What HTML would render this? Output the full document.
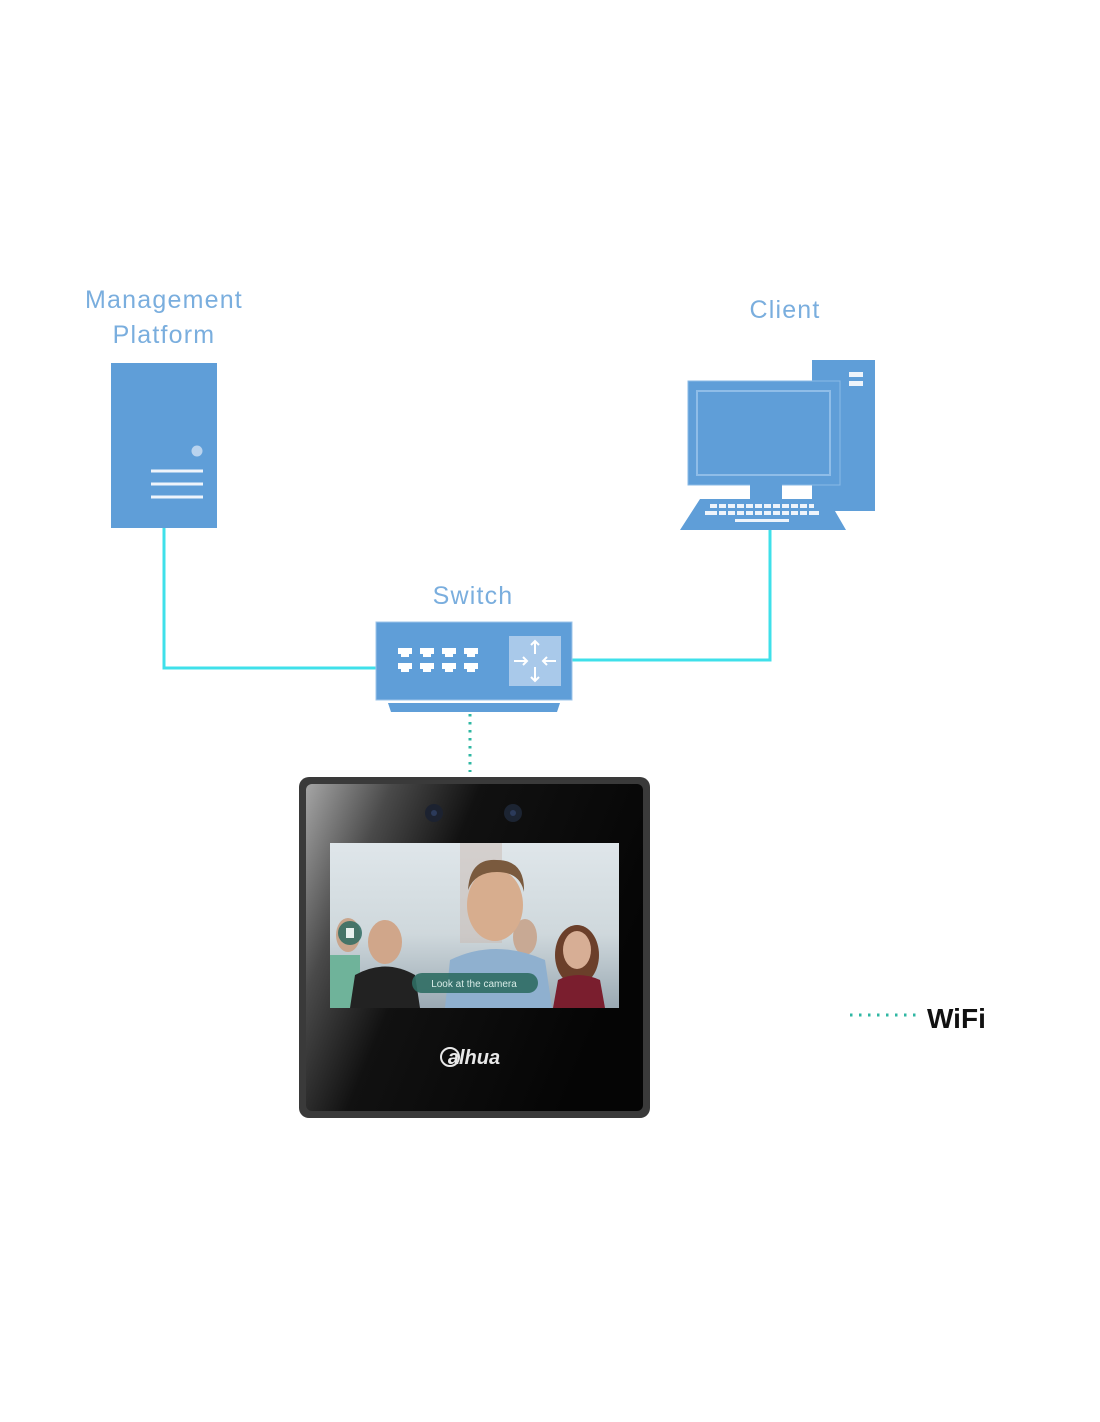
<!DOCTYPE html>
<html><head><meta charset="utf-8"><style>
html,body{margin:0;padding:0;background:#fff;}
svg{display:block;}
text{font-family:"Liberation Sans",sans-serif;}
</style></head><body>
<svg width="1100" height="1422" viewBox="0 0 1100 1422" xmlns="http://www.w3.org/2000/svg">
<defs>
<linearGradient id="glass" x1="0" y1="0" x2="1" y2="0.4">
<stop offset="0" stop-color="#a5a5a5"/><stop offset="0.22" stop-color="#4a4a4a"/><stop offset="0.45" stop-color="#111"/><stop offset="1" stop-color="#050505"/>
</linearGradient>
<linearGradient id="photo" x1="0" y1="0" x2="0" y2="1">
<stop offset="0" stop-color="#dfe6ea"/><stop offset="0.55" stop-color="#cfd8dc"/><stop offset="1" stop-color="#9aa9b3"/>
</linearGradient>
</defs>
<!-- labels -->
<g fill="#7aaede" font-size="25" letter-spacing="1.2" text-anchor="middle">
<text x="164" y="308">Management</text>
<text x="164" y="343">Platform</text>
<text x="785" y="318">Client</text>
<text x="473" y="604">Switch</text>
</g>
<!-- connectors -->
<polyline points="164,528 164,668 377,668" fill="none" stroke="#3fe0ea" stroke-width="3"/>
<polyline points="571,660 770,660 770,530" fill="none" stroke="#3fe0ea" stroke-width="3"/>
<line x1="470" y1="714" x2="470" y2="772" stroke="#2fb7a3" stroke-width="3" stroke-dasharray="2.5 5.5"/>
<!-- server -->
<rect x="111" y="363" width="106" height="165" fill="#5f9ed8"/>
<circle cx="197" cy="451" r="5.5" fill="#b9d3ee"/>
<g stroke="#eef4fb" stroke-width="3"><line x1="151" y1="471" x2="203" y2="471"/><line x1="151" y1="484" x2="203" y2="484"/><line x1="151" y1="497" x2="203" y2="497"/></g>
<!-- client -->
<rect x="812" y="360" width="63" height="151" fill="#5f9ed8"/>
<rect x="849" y="372" width="14" height="5" fill="#eef4fb"/><rect x="849" y="381" width="14" height="5" fill="#eef4fb"/>
<rect x="688" y="381" width="152" height="104" fill="#5f9ed8" stroke="#8ab9e6" stroke-width="1"/>
<rect x="697" y="391" width="133" height="84" fill="#5f9ed8" stroke="#8fbde8" stroke-width="2"/>
<rect x="750" y="484" width="32" height="16" fill="#5f9ed8"/>
<polygon points="700,499 828,499 846,530 680,530" fill="#5f9ed8"/>
<g fill="#eef4fb">
<rect x="710" y="504" width="104" height="4"/><rect x="705" y="511" width="114" height="4"/><rect x="735" y="519" width="54" height="3"/>
</g>
<g fill="#5f9ed8"><rect x="717" y="503" width="2" height="13"/><rect x="726" y="503" width="2" height="13"/><rect x="735" y="503" width="2" height="13"/><rect x="744" y="503" width="2" height="13"/><rect x="753" y="503" width="2" height="13"/><rect x="762" y="503" width="2" height="13"/><rect x="771" y="503" width="2" height="13"/><rect x="780" y="503" width="2" height="13"/><rect x="789" y="503" width="2" height="13"/><rect x="798" y="503" width="2" height="13"/><rect x="807" y="503" width="2" height="13"/></g>
<!-- switch -->
<rect x="376" y="622" width="196" height="78" fill="#5f9ed8" stroke="#9cc4ea" stroke-width="1"/>
<polygon points="388,703 560,703 557,712 391,712" fill="#5f9ed8"/>
<rect x="509" y="636" width="52" height="50" fill="#a9c9ea"/>
<g stroke="#fff" stroke-width="2" fill="none">
<line x1="535" y1="641" x2="535" y2="654"/><polyline points="531,645 535,641 539,645"/>
<line x1="535" y1="667" x2="535" y2="681"/><polyline points="531,677 535,681 539,677"/>
<line x1="514" y1="661" x2="527" y2="661"/><polyline points="523,657 527,661 523,665"/>
<line x1="543" y1="661" x2="556" y2="661"/><polyline points="547,657 543,661 547,665"/>
</g>
<g fill="#fff">
<rect x="398" y="648" width="14" height="6"/><rect x="401" y="654" width="8" height="3"/>
<rect x="420" y="648" width="14" height="6"/><rect x="423" y="654" width="8" height="3"/>
<rect x="442" y="648" width="14" height="6"/><rect x="445" y="654" width="8" height="3"/>
<rect x="464" y="648" width="14" height="6"/><rect x="467" y="654" width="8" height="3"/>
<rect x="398" y="663" width="14" height="6"/><rect x="401" y="669" width="8" height="3"/>
<rect x="420" y="663" width="14" height="6"/><rect x="423" y="669" width="8" height="3"/>
<rect x="442" y="663" width="14" height="6"/><rect x="445" y="669" width="8" height="3"/>
<rect x="464" y="663" width="14" height="6"/><rect x="467" y="669" width="8" height="3"/>
</g>
<!-- device -->
<rect x="299" y="777" width="351" height="341" rx="10" fill="#3a3a3a"/>
<rect x="306" y="784" width="337" height="327" rx="6" fill="url(#glass)"/>
<circle cx="434" cy="813" r="9" fill="#1c2230"/><circle cx="513" cy="813" r="9" fill="#1c2432"/>
<circle cx="434" cy="813" r="3" fill="#2b3a5a"/><circle cx="513" cy="813" r="3" fill="#2b3a5a"/>
<rect x="330" y="843" width="289" height="165" fill="url(#photo)"/>
<rect x="460" y="843" width="42" height="100" fill="#c9b9b2" opacity="0.5"/>
<!-- people -->
<ellipse cx="348" cy="935" rx="12" ry="17" fill="#c9a58c"/>
<rect x="330" y="955" width="30" height="53" fill="#6fb39a"/>
<ellipse cx="385" cy="942" rx="17" ry="22" fill="#d0a68a"/>
<path d="M350 1008 L355 975 Q385 958 415 975 L420 1008 Z" fill="#222"/>
<ellipse cx="525" cy="937" rx="12" ry="18" fill="#c8a994"/>
<ellipse cx="495" cy="905" rx="28" ry="36" fill="#d7ad8e"/>
<path d="M468 890 Q470 858 497 860 Q525 860 524 892 Q520 872 497 872 Q475 872 468 890Z" fill="#7a5a3e"/>
<path d="M445 1008 L450 960 Q495 938 545 960 L552 1008 Z" fill="#8fb0cf"/>
<ellipse cx="577" cy="955" rx="22" ry="30" fill="#6b3f2a"/>
<ellipse cx="577" cy="950" rx="14" ry="19" fill="#d7ae95"/>
<path d="M553 1008 L558 980 Q578 970 600 980 L605 1008 Z" fill="#7a1e2e"/>
<circle cx="350" cy="933" r="12" fill="#2f6b62" opacity="0.85"/><rect x="346" y="928" width="8" height="10" fill="#e8f0ee"/>
<rect x="412" y="973" width="126" height="20" rx="10" fill="#2f6d63" opacity="0.9"/>
<text x="474" y="987" font-size="10" fill="#d8ece7" text-anchor="middle">Look at the camera</text>
<text x="474" y="1064" font-size="20" font-weight="bold" font-style="italic" fill="#e8e8e8" text-anchor="middle">alhua</text>
<circle cx="450" cy="1057" r="9" fill="none" stroke="#e8e8e8" stroke-width="2"/>
<!-- legend -->
<line x1="850" y1="1015" x2="921" y2="1015" stroke="#2fb7a3" stroke-width="3" stroke-dasharray="2.5 6.5"/>
<text x="927" y="1028" font-size="28" font-weight="bold" fill="#111">WiFi</text>
</svg>
</body></html>
